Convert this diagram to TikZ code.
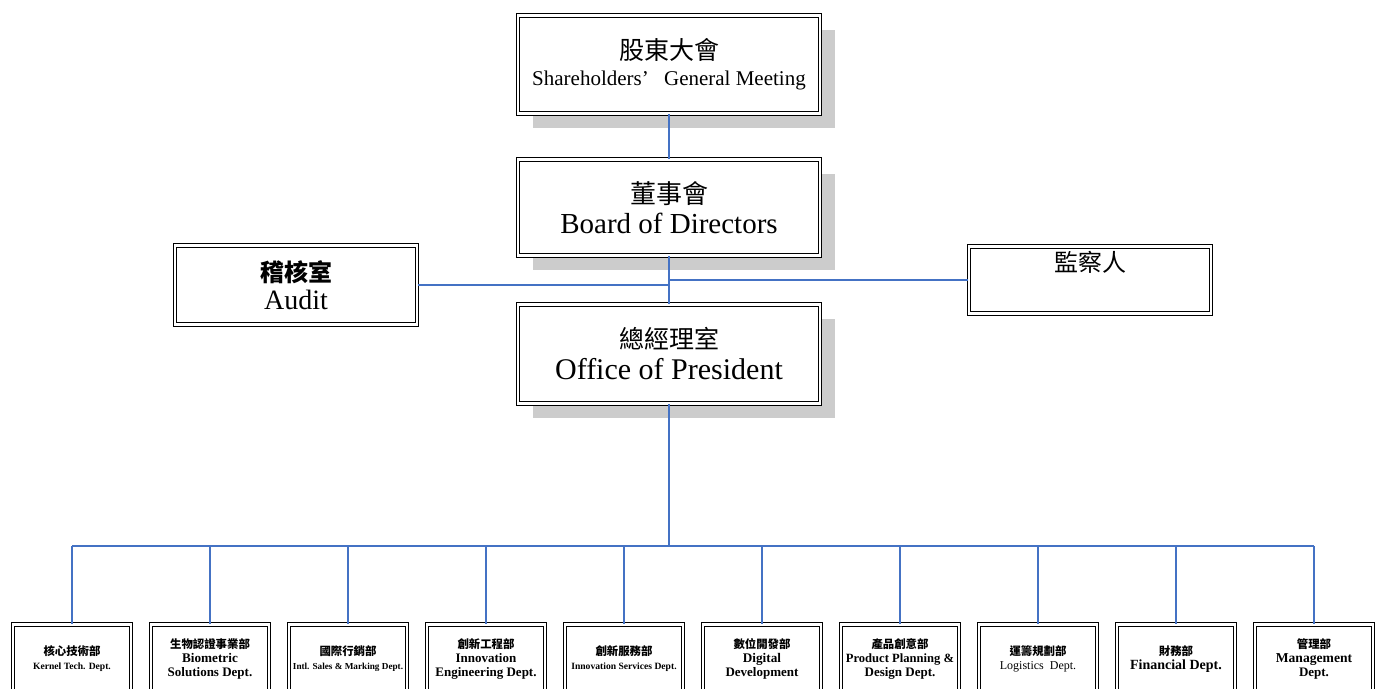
\documentclass[tikz,border=0pt]{standalone}
\usepackage{fontspec}
\setmainfont{Liberation Serif}
\newfontfamily\cjk{Noto Sans CJK TC}
\usetikzlibrary{shadows}
\definecolor{linkblue}{HTML}{4472C4}
\definecolor{shadowgray}{HTML}{CCCCCC}
\begin{document}
\begin{tikzpicture}[x=0.5pt,y=-0.5pt,
    box/.style={draw,double,double distance=1.1pt,line width=0.6pt,fill=white,align=center,inner sep=1pt},
    shade/.style={drop shadow={shadow xshift=7.5pt,shadow yshift=-7.5pt,fill=shadowgray,opacity=1}},
    big/.style={box,shade,minimum width=151pt,minimum height=49pt},
    side/.style={box,minimum width=121pt},
    dept/.style={box,minimum width=59pt,minimum height=34.5pt,inner xsep=0.5pt,font=\bfseries\fontsize{6.5}{7}\selectfont},
    link/.style={draw=linkblue,line width=0.55pt}]
    \useasboundingbox (0,0) rectangle (1378,689);
    \clip (0,0) rectangle (1378,689);
    \node[big,font=\fontsize{10.5}{13}\selectfont] (meeting) at (669,64.5)
        {{\cjk\fontsize{12.5}{13}\selectfont 股東大會}\\Shareholders’\hspace{5pt} General Meeting};
    \node[big,minimum height=48pt,font=\fontsize{14.5}{15}\selectfont] (board) at (669,207.5)
        {{\cjk\fontsize{13}{15}\selectfont 董事會}\\Board of Directors};
    \node[big,minimum height=49.5pt,font=\fontsize{15}{15.5}\selectfont] (pres) at (669,354)
        {{\cjk\fontsize{12.5}{15}\selectfont 總經理室}\\Office of President};
    \node[side,minimum height=39.5pt,font=\fontsize{14}{14}\selectfont] (audit) at (296,285)
        {{\cjk\bfseries\fontsize{12}{14}\selectfont 稽核室}\\Audit};
    \node[side,minimum height=33.5pt,font=\fontsize{12}{14}\selectfont] (super) at (1090,280)
        {{\cjk 監察人}\\\strut};
    \foreach \i/\zh/\f/\en in {
        0/核心技術部/\fontsize{4.8}{7}\selectfont/Kernel Tech. Dept.,
        1/生物認證事業部/\fontsize{6.6}{7}\selectfont/Biometric\\Solutions Dept.,
        2/國際行銷部/\fontsize{4.6}{7}\selectfont/Intl. Sales \& Marking Dept.,
        3/創新工程部/\fontsize{6.5}{7}\selectfont/Innovation\\Engineering Dept.,
        4/創新服務部/\fontsize{4.8}{7}\selectfont/Innovation Services Dept.,
        5/數位開發部/\fontsize{6.6}{7}\selectfont/Digital\\Development,
        6/產品創意部/\fontsize{6.3}{7}\selectfont/Product Planning \&\\Design Dept.,
        7/運籌規劃部/\mdseries\fontsize{6}{7}\selectfont/Logistics\ \ Dept.,
        8/財務部/\fontsize{7}{7}\selectfont/Financial Dept.,
        9/管理部/\fontsize{6.8}{7}\selectfont/Management\\Dept.}
        \node[dept] (d\i) at ({72+138*\i},659) {{\cjk\fontsize{5.7}{7}\selectfont\zh}\\\f\en};
    \coordinate (bus) at (669,546);
    \draw[link] (meeting.south) -- (board.north);
    \draw[link] (board.south) -- (pres.north);
    \draw[link] (audit.east) -- (audit.east -| board.south);
    \draw[link] (super.west) -- (super.west -| board.south);
    \draw[link,line width=1pt] (pres.south) -- (bus);
    \draw[link] (d0.north |- bus) -- (d9.north |- bus);
    \foreach \i in {0,...,9}
        \draw[link] (d\i.north |- bus) -- (d\i.north);
\end{tikzpicture}
\end{document}
